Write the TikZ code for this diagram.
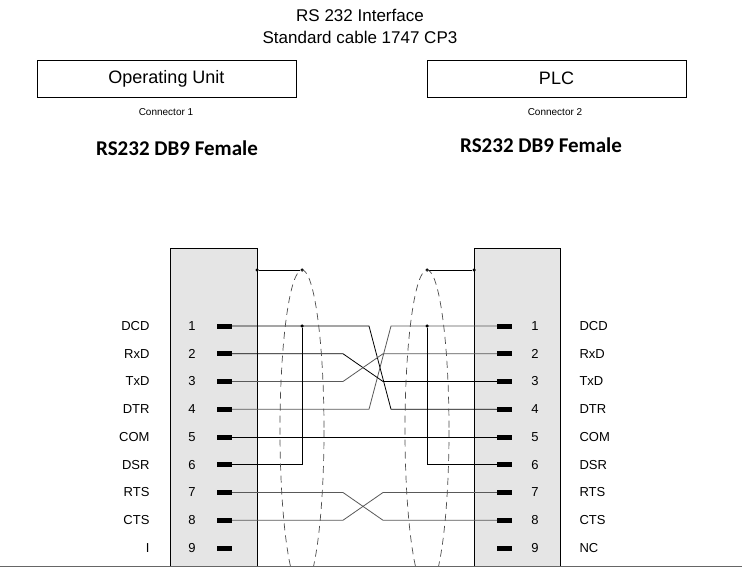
\documentclass[tikz,border=0pt]{standalone}
\usepackage{fontspec}
\setmainfont{Liberation Sans}
\newfontfamily\boldcal{Carlito}
\usepackage{tikz}

\begin{document}
\begin{tikzpicture}[x=1pt,y=-1pt,
  pin/.style={fill=black, minimum width=15pt, minimum height=5pt, inner sep=0pt, outer sep=0pt},
  dot/.style={circle, fill=black, inner sep=0pt, minimum size=3.5pt},
  wire/.style={line width=0.8pt},
  graywire/.style={line width=0.8pt, color=black!65},
  shield/.style={dashed, dash pattern=on 7pt off 5pt, line width=0.7pt, color=black!70},
  every node/.style={font=\fontsize{13}{15}\selectfont}]
\useasboundingbox (0,0) rectangle (742,567);
\fill[white] (0,0) rectangle (742,567);

% headings
\node (t1) at (360,15) {\fontsize{17}{19}\selectfont RS 232 Interface};
\node (t2) at (360,37) {\fontsize{17}{19}\selectfont Standard cable 1747 CP3};
\node[draw, minimum width=259pt, minimum height=37pt] (ou) at (166.5,78.5) {\fontsize{18}{20}\selectfont Operating Unit};
\node[draw, minimum width=259pt, minimum height=37pt] (plc) at (556.5,78.5) {\fontsize{18}{20}\selectfont PLC};
\node (c1) at (166,112) {\fontsize{10}{12}\selectfont Connector 1};
\node (c2) at (555,112) {\fontsize{10}{12}\selectfont Connector 2};
\node (f1) at (177,148) {\boldcal\bfseries\fontsize{21}{24}\selectfont RS232 DB9 Female};
\node (f2) at (541,145) {\boldcal\bfseries\fontsize{21}{24}\selectfont RS232 DB9 Female};

% connector housings
\draw[fill=black!10, line width=0.8pt] (170,570) -- (170,248) -- (257,248) -- (257,570);
\draw[fill=black!10, line width=0.8pt] (474,570) -- (474,248) -- (560,248) -- (560,570);

% pins
\foreach \n/\la/\lb [count=\i] in {1/DCD/DCD, 2/RxD/RxD, 3/TxD/TxD, 4/DTR/DTR, 5/COM/COM,
    6/DSR/DSR, 7/RTS/RTS, 8/CTS/CTS, 9/I/NC} {
  \pgfmathsetmacro{\yy}{326+(\i-1)*27.75}
  \node[pin] (L\n) at (224.5,\yy) {};
  \node[pin] (R\n) at (504.5,\yy) {};
  \node (ln\n) at (192,\yy) {\n};
  \node (rn\n) at (535,\yy) {\n};
  \node[anchor=east] (lt\n) at (153,\yy) {\la};
  \node[anchor=west] (rt\n) at (576,\yy) {\lb};
}

% crossed pairs
\draw[wire] (L1.east) -- (369,0 |- L1) -- (391,0 |- R4) -- (R4.west);
\draw[graywire] (L4.east) -- (369,0 |- L4) -- (391,0 |- R1) -- (R1.west);
\draw[wire] (L2.east) -- (343,0 |- L2) -- (383,0 |- R3) -- (R3.west);
\draw[graywire] (L3.east) -- (343,0 |- L3) -- (383,0 |- R2) -- (R2.west);
\draw[wire] (L5.east) -- (R5.west);
\draw[graywire] (L7.east) -- (343,0 |- L7) -- (383,0 |- R8) -- (R8.west);
\draw[graywire] (L8.east) -- (343,0 |- L8) -- (383,0 |- R7) -- (R7.west);

% DSR loops
\node[dot] (dl) at (302,326) {};
\node[dot] (dr) at (427,326) {};
\draw[wire] (L6.east) -| (dl);
\draw[wire] (R6.west) -| (dr);

% shields
\node[dot] (sl1) at (257,270) {};
\node[dot] (sl2) at (302,270) {};
\node[dot] (sr1) at (427,270) {};
\node[dot] (sr2) at (474,270) {};
\draw[wire] (sl1) -- (sl2);
\draw[wire] (sr1) -- (sr2);
\begin{scope}
\clip (0,0) rectangle (742,566);
\draw[shield] (302,430) ellipse [x radius=22, y radius=160];
\draw[shield] (427,430) ellipse [x radius=22, y radius=160];
\end{scope}
\draw[black!60, line width=1.2pt] (0,566.4) -- (742,566.4);
\end{tikzpicture}
\end{document}
